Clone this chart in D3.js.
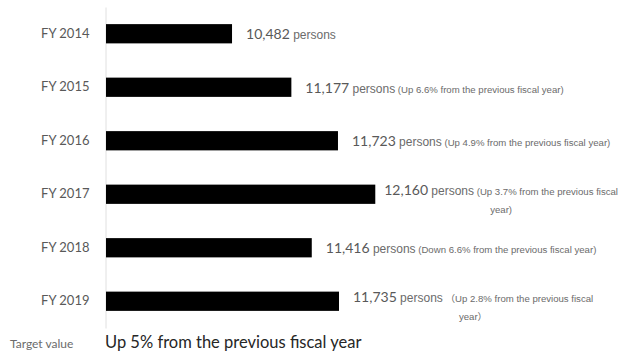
<!DOCTYPE html>
<html>
<head>
<meta charset="utf-8">
<script src="https://cdn.jsdelivr.net/npm/d3@7"></script>
<style>
  body { margin: 0; background: #fff; }
  .tick text { font-family: Lato, sans-serif; font-size: 13px; fill: #595959; }
  .num { font-family: Lato, sans-serif; font-size: 14px; fill: #595959; }
  .unit { font-family: "Liberation Sans", sans-serif; font-size: 12px; fill: #6b6b6b; }
  .note { font-family: "Liberation Sans", "Noto Sans CJK JP", sans-serif; font-size: 9.6px; fill: #6b6b6b; }
</style>
</head>
<body>
<div id="chart"></div>
<script>
// fiscal years and number of persons
var years = ["FY 2014", "FY 2015", "FY 2016", "FY 2017", "FY 2018", "FY 2019"];
var persons = [10482, 11177, 11723, 12160, 11416, 11735];
var notes = [
  "",
  "(Up 6.6% from the previous fiscal year)",
  "(Up 4.9% from the previous fiscal year)",
  "(Up 3.7% from the previous fiscal year)",
  "(Down 6.6% from the previous fiscal year)",
  "（Up 2.8% from the previous fiscal year）"
];
var targetLabel = "Target value";
var targetText = "Up 5% from the previous fiscal year";

var svgWidth = 621;
var svgHeight = 360;

var svg = d3.select("#chart")
  .append("svg")
  .attr("width", svgWidth)
  .attr("height", svgHeight);

var xScale = d3.scaleLinear()
  .domain([9000, 13000])
  .range([105.5, 447]);

var yScale = d3.scaleBand()
  .domain(years)
  .range([7, 328])
  .paddingInner(0.64)
  .paddingOuter(0.32);

// y axis: light vertical line + year labels
var yAxis = d3.axisLeft(yScale).tickSize(0).tickPadding(16);
var axisG = svg.append("g")
  .attr("transform", `translate(${xScale(9000)}, 0)`)
  .call(yAxis);
axisG.select(".domain").attr("stroke", "#e0e0e0");

var data = years.map(function(y, i) {
  return {year: y, value: persons[i], note: notes[i]};
});

svg.selectAll(".bar")
  .data(data)
  .enter()
  .append("rect")
  .attr("class", "bar")
  .attr("x", xScale(9000) + 0.5)
  .attr("y", d => yScale(d.year))
  .attr("width", d => xScale(d.value) - xScale(9000) - 0.5)
  .attr("height", yScale.bandwidth())
  .attr("fill", "#000");

var fmt = d3.format(",");
var labelsG = svg.append("g");
var rightEdge = 618;

data.forEach(function(d) {
  var x0 = xScale(d.value) + 14;
  var cy = yScale(d.year) + yScale.bandwidth() / 2;
  var t = labelsG.append("text")
    .attr("x", x0)
    .attr("y", cy)
    .attr("dy", "0.35em");
  t.append("tspan").attr("class", "num").text(fmt(d.value));
  t.append("tspan").attr("class", "unit").text(" persons");
  var nt = t.append("tspan").attr("class", "note").text(d.note ? " " + d.note : "");

  // wrap the last word when the label runs off the right edge
  if (d.note && x0 + t.node().getComputedTextLength() > rightEdge + 1) {
    var words = d.note.split(" ");
    var last = words.pop();
    nt.text(" " + words.join(" "));
    var w = t.node().getComputedTextLength();
    // still too long: pull it closer to the bar
    x0 = Math.min(x0, rightEdge - w);
    t.attr("x", x0).attr("y", cy - 5);
    labelsG.append("text")
      .attr("class", "note")
      .attr("x", x0 + w / 2)
      .attr("y", cy + 15)
      .attr("dy", "0.35em")
      .attr("text-anchor", "middle")
      .text(last);
  }
});

// target value line
svg.append("text")
  .attr("x", 10)
  .attr("y", 348)
  .style("font-family", "Lato, sans-serif")
  .style("font-size", "12px")
  .style("fill", "#6b6b6b")
  .text(targetLabel);

svg.append("text")
  .attr("x", 105)
  .attr("y", 348)
  .style("font-family", "Lato, sans-serif")
  .style("font-size", "16.5px")
  .style("fill", "#262626")
  .text(targetText);
</script>
</body>
</html>
